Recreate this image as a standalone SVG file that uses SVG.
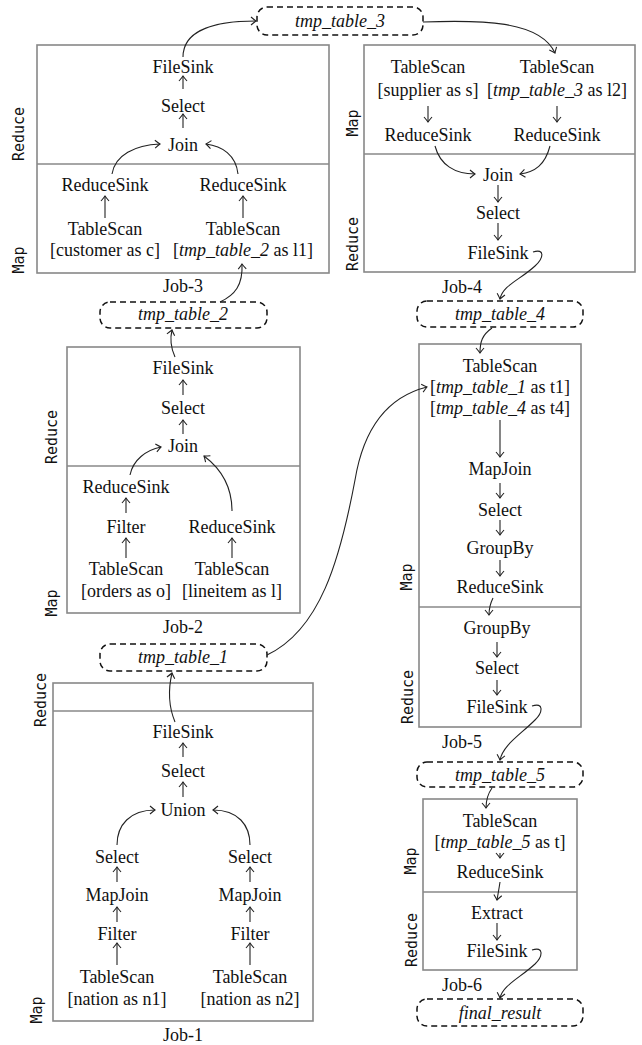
<svg xmlns="http://www.w3.org/2000/svg" width="642" height="1045" viewBox="0 0 642 1045">
<style>
.box{fill:none;stroke:#888;stroke-width:1.6}
.dv{stroke:#888;stroke-width:1.6}
.tmp{fill:none;stroke:#111;stroke-width:1.5;stroke-dasharray:6 4}
.t{font-family:"Liberation Serif",serif;font-size:18px;text-anchor:middle;fill:#111}
.it{font-style:italic}
.lab{font-family:"DejaVu Sans Mono",monospace;font-size:15px;text-anchor:middle;fill:#111}
.a{fill:none;stroke:#222;stroke-width:1.1;marker-end:url(#ah)}
</style>
<defs>
<marker id="ah" viewBox="-7 -6 9 12" markerWidth="9" markerHeight="12" refX="0" refY="0" orient="auto" markerUnits="userSpaceOnUse">
<path d="M-5,-4 Q-1.5,-1 0,0 Q-1.5,1 -5,4" fill="none" stroke="#222" stroke-width="1.1"/>
</marker>
</defs>
<rect width="642" height="1045" fill="#fff"/>

<!-- Job boxes -->
<g id="job3">
<rect class="box" x="37" y="45" width="292" height="228"/>
<line class="dv" x1="37" y1="164" x2="329" y2="164"/>
<text class="lab" transform="translate(24,134) rotate(-90)">Reduce</text>
<text class="lab" transform="translate(24,260) rotate(-90)">Map</text>
<text class="t" x="183" y="292">Job-3</text>
</g>
<g id="job4">
<rect class="box" x="364" y="45" width="271" height="227"/>
<line class="dv" x1="364" y1="154" x2="635" y2="154"/>
<text class="lab" transform="translate(358,123) rotate(-90)">Map</text>
<text class="lab" transform="translate(358,244) rotate(-90)">Reduce</text>
<text class="t" x="462" y="293">Job-4</text>
</g>
<g id="job2">
<rect class="box" x="67" y="347" width="233" height="266"/>
<line class="dv" x1="67" y1="466" x2="300" y2="466"/>
<text class="lab" transform="translate(57,437) rotate(-90)">Reduce</text>
<text class="lab" transform="translate(57,603) rotate(-90)">Map</text>
<text class="t" x="183" y="633">Job-2</text>
</g>
<g id="job1">
<rect class="box" x="53" y="683" width="260" height="338"/>
<line class="dv" x1="53" y1="711" x2="313" y2="711"/>
<text class="lab" transform="translate(46,700) rotate(-90)">Reduce</text>
<text class="lab" transform="translate(42,1010) rotate(-90)">Map</text>
<text class="t" x="183" y="1041">Job-1</text>
</g>
<g id="job5">
<rect class="box" x="419" y="344" width="162" height="383"/>
<line class="dv" x1="419" y1="607" x2="581" y2="607"/>
<text class="lab" transform="translate(412,577) rotate(-90)">Map</text>
<text class="lab" transform="translate(413,697) rotate(-90)">Reduce</text>
<text class="t" x="462" y="748">Job-5</text>
</g>
<g id="job6">
<rect class="box" x="423" y="799" width="154" height="171"/>
<line class="dv" x1="423" y1="892" x2="577" y2="892"/>
<text class="lab" transform="translate(416,861) rotate(-90)">Map</text>
<text class="lab" transform="translate(417,940) rotate(-90)">Reduce</text>
<text class="t" x="462" y="991">Job-6</text>
</g>

<!-- tmp tables -->
<g id="tmp3"><rect class="tmp" x="257" y="7" width="166" height="28" rx="10"/><text class="t it" x="340" y="27">tmp_table_3</text></g>
<g id="tmp2"><rect class="tmp" x="100" y="302" width="167" height="26" rx="10"/><text class="t it" x="183" y="320">tmp_table_2</text></g>
<g id="tmp4"><rect class="tmp" x="417" y="301" width="166" height="26" rx="10"/><text class="t it" x="500" y="320">tmp_table_4</text></g>
<g id="tmp1"><rect class="tmp" x="100" y="644" width="167" height="27" rx="10"/><text class="t it" x="183" y="663">tmp_table_1</text></g>
<g id="tmp5"><rect class="tmp" x="417" y="762" width="166" height="25" rx="10"/><text class="t it" x="500" y="781">tmp_table_5</text></g>
<g id="final"><rect class="tmp" x="417" y="999" width="166" height="27" rx="10"/><text class="t it" x="500" y="1019">final_result</text></g>

<!-- Job-3 nodes -->
<g id="j3-filesink"><text class="t" x="183" y="73">FileSink</text></g>
<g id="j3-select"><text class="t" x="183" y="112">Select</text></g>
<g id="j3-join"><text class="t" x="183" y="151">Join</text></g>
<g id="j3-rs1"><text class="t" x="105" y="191">ReduceSink</text></g>
<g id="j3-rs2"><text class="t" x="243" y="191">ReduceSink</text></g>
<g id="j3-ts1"><text class="t" x="105" y="235">TableScan</text><text class="t" x="105" y="256">[customer as c]</text></g>
<g id="j3-ts2"><text class="t" x="243" y="235">TableScan</text><text class="t" x="243" y="256">[<tspan class="it">tmp_table_2</tspan> as l1]</text></g>

<!-- Job-4 nodes -->
<g id="j4-ts1"><text class="t" x="428" y="73">TableScan</text><text class="t" x="428" y="96">[supplier as s]</text></g>
<g id="j4-ts2"><text class="t" x="557" y="73">TableScan</text><text class="t" x="557" y="96">[<tspan class="it">tmp_table_3</tspan> as l2]</text></g>
<g id="j4-rs1"><text class="t" x="428" y="141">ReduceSink</text></g>
<g id="j4-rs2"><text class="t" x="557" y="141">ReduceSink</text></g>
<g id="j4-join"><text class="t" x="498" y="181">Join</text></g>
<g id="j4-select"><text class="t" x="498" y="219">Select</text></g>
<g id="j4-filesink"><text class="t" x="498" y="259">FileSink</text></g>

<!-- Job-2 nodes -->
<g id="j2-filesink"><text class="t" x="183" y="374">FileSink</text></g>
<g id="j2-select"><text class="t" x="183" y="414">Select</text></g>
<g id="j2-join"><text class="t" x="183" y="452">Join</text></g>
<g id="j2-rs1"><text class="t" x="126" y="493">ReduceSink</text></g>
<g id="j2-filter"><text class="t" x="126" y="533">Filter</text></g>
<g id="j2-ts1"><text class="t" x="126" y="575">TableScan</text><text class="t" x="126" y="597">[orders as o]</text></g>
<g id="j2-rs2"><text class="t" x="232" y="533">ReduceSink</text></g>
<g id="j2-ts2"><text class="t" x="232" y="575">TableScan</text><text class="t" x="232" y="597">[lineitem as l]</text></g>

<!-- Job-1 nodes -->
<g id="j1-filesink"><text class="t" x="183" y="738">FileSink</text></g>
<g id="j1-select"><text class="t" x="183" y="777">Select</text></g>
<g id="j1-union"><text class="t" x="183" y="816">Union</text></g>
<g id="j1-sel1"><text class="t" x="117" y="863">Select</text></g>
<g id="j1-mj1"><text class="t" x="117" y="901">MapJoin</text></g>
<g id="j1-f1"><text class="t" x="117" y="940">Filter</text></g>
<g id="j1-ts1"><text class="t" x="117" y="983">TableScan</text><text class="t" x="117" y="1005">[nation as n1]</text></g>
<g id="j1-sel2"><text class="t" x="250" y="863">Select</text></g>
<g id="j1-mj2"><text class="t" x="250" y="901">MapJoin</text></g>
<g id="j1-f2"><text class="t" x="250" y="940">Filter</text></g>
<g id="j1-ts2"><text class="t" x="250" y="983">TableScan</text><text class="t" x="250" y="1005">[nation as n2]</text></g>

<!-- Job-5 nodes -->
<g id="j5-ts"><text class="t" x="500" y="372">TableScan</text><text class="t" x="500" y="393">[<tspan class="it">tmp_table_1</tspan> as t1]</text><text class="t" x="500" y="414">[<tspan class="it">tmp_table_4</tspan> as t4]</text></g>
<g id="j5-mapjoin"><text class="t" x="500" y="475">MapJoin</text></g>
<g id="j5-select1"><text class="t" x="500" y="516">Select</text></g>
<g id="j5-gb1"><text class="t" x="500" y="554">GroupBy</text></g>
<g id="j5-rs"><text class="t" x="500" y="593">ReduceSink</text></g>
<g id="j5-gb2"><text class="t" x="497" y="634">GroupBy</text></g>
<g id="j5-select2"><text class="t" x="497" y="674">Select</text></g>
<g id="j5-filesink"><text class="t" x="497" y="713">FileSink</text></g>

<!-- Job-6 nodes -->
<g id="j6-ts"><text class="t" x="500" y="827">TableScan</text><text class="t" x="500" y="848">[<tspan class="it">tmp_table_5</tspan> as t]</text></g>
<g id="j6-rs"><text class="t" x="500" y="878">ReduceSink</text></g>
<g id="j6-extract"><text class="t" x="497" y="919">Extract</text></g>
<g id="j6-filesink"><text class="t" x="497" y="957">FileSink</text></g>

<!-- connectors -->
<g id="connectors">
<!-- Job-3 -->
<path class="a" d="M183,89 L183,76"/>
<path class="a" d="M183,128 L183,114"/>
<path class="a" d="M105,218 L105,196"/>
<path class="a" d="M243,218 L243,196"/>
<path class="a" d="M112,174 C115,155 135,145 160,144"/>
<path class="a" d="M238,174 C236,155 222,146 206,144"/>
<path class="a" d="M183,57 C183,30 215,21 256,21"/>
<path class="a" d="M423,22 C480,20 540,20 555,53"/>
<!-- Job-4 -->
<path class="a" d="M428,106 L428,122"/>
<path class="a" d="M557,106 L557,122"/>
<path class="a" d="M435,146 C440,165 455,174 475,174"/>
<path class="a" d="M550,146 C545,165 535,172 520,174"/>
<path class="a" d="M498,185 L498,202"/>
<path class="a" d="M498,223 L498,240"/>
<path class="a" d="M533,252 C545,248 544,258 535,266 C520,280 503,285 500,299"/>
<!-- tmp4 to Job-5 -->
<path class="a" d="M492,328 C482,335 480,342 480,353"/>
<!-- Job-2 -->
<path class="a" d="M220,302 C235,295 243,285 242,264"/>
<path class="a" d="M175,357 C170,346 170,338 172,330"/>
<path class="a" d="M183,395 L183,380"/>
<path class="a" d="M183,434 L183,420"/>
<path class="a" d="M126,513 L126,498"/>
<path class="a" d="M126,558 L126,538"/>
<path class="a" d="M232,558 L232,538"/>
<path class="a" d="M130,475 C133,460 146,450 161,447"/>
<path class="a" d="M232,511 C232,485 220,468 204,456"/>
<!-- tmp1 to Job-5 -->
<path class="a" d="M267,655 C320,630 340,560 355,480 C365,420 395,395 427,387"/>
<!-- Job-1 -->
<path class="a" d="M175,722 C168,705 168,690 172,673"/>
<path class="a" d="M183,757 L183,743"/>
<path class="a" d="M183,797 L183,782"/>
<path class="a" d="M117,845 C117,825 130,810 155,810"/>
<path class="a" d="M250,845 C250,825 238,810 213,810"/>
<path class="a" d="M117,882 L117,867"/>
<path class="a" d="M117,922 L117,907"/>
<path class="a" d="M117,965 L117,943"/>
<path class="a" d="M250,882 L250,867"/>
<path class="a" d="M250,922 L250,907"/>
<path class="a" d="M250,965 L250,943"/>
<!-- Job-5 -->
<path class="a" d="M500,420 L500,457"/>
<path class="a" d="M500,483 L500,498"/>
<path class="a" d="M500,520 L500,535"/>
<path class="a" d="M500,560 L500,576"/>
<path class="a" d="M493,598 C490,604 489,609 489,615"/>
<path class="a" d="M497,642 L497,657"/>
<path class="a" d="M497,680 L497,695"/>
<path class="a" d="M532,706 C544,702 543,712 535,720 C520,735 503,745 500,760"/>
<!-- Job-6 -->
<path class="a" d="M492,788 C487,795 486,801 486,808"/>
<path class="a" d="M500,853 L500,858"/>
<path class="a" d="M500,882 C499,889 498,894 497,900"/>
<path class="a" d="M497,923 L497,940"/>
<path class="a" d="M532,950 C544,946 543,956 535,964 C520,978 503,985 500,998"/>
</g>
</svg>
